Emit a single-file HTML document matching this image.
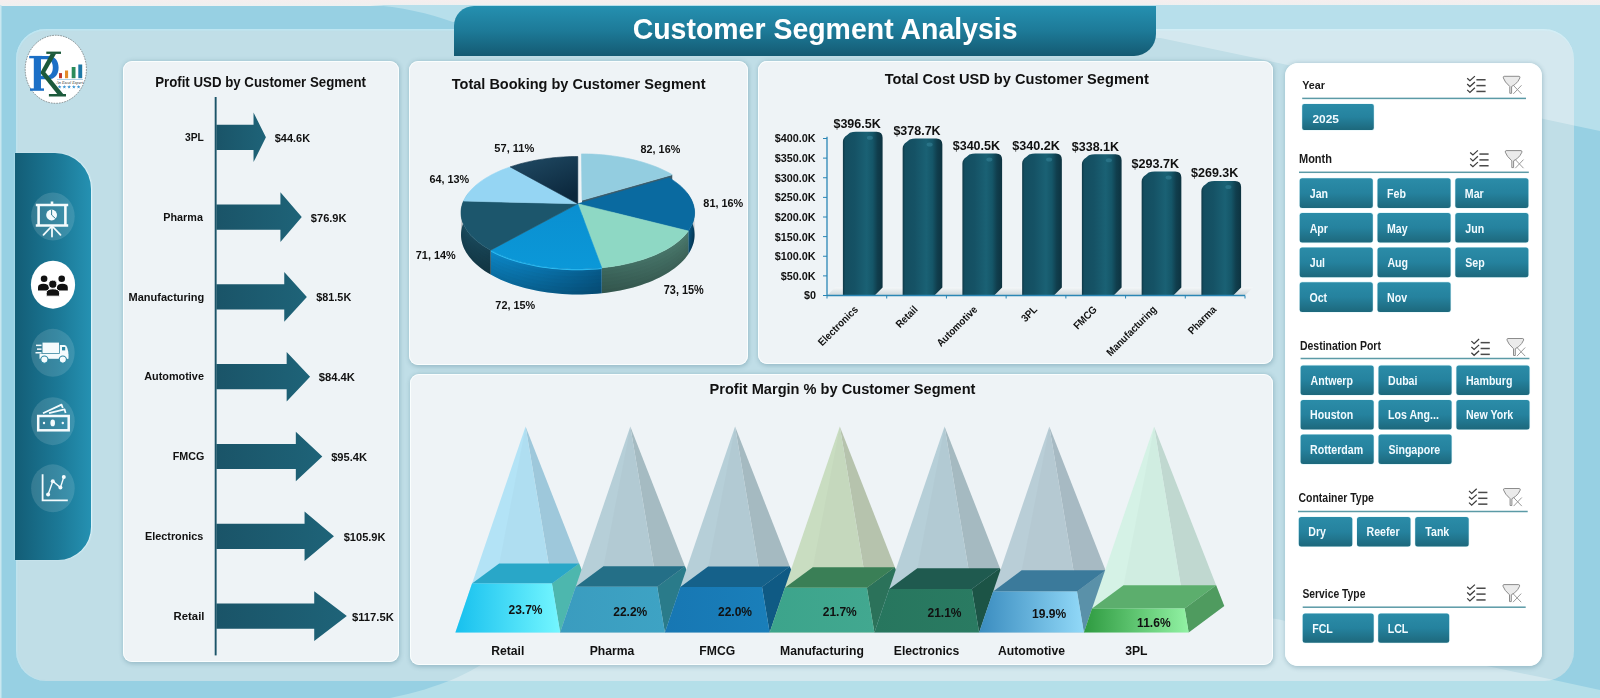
<!DOCTYPE html>
<html><head><meta charset="utf-8"><style>
html,body{margin:0;padding:0;}
body{width:1600px;height:698px;overflow:hidden;position:relative;background:#97d0e3;font-family:"Liberation Sans",sans-serif;}
.abs{position:absolute;}
.t{position:absolute;white-space:nowrap;line-height:1;transform-origin:0 0;}
</style></head><body>
<div style="position:absolute;left:0;top:0;width:1600px;height:5.5px;background:linear-gradient(#f5eeee,#eef0f0)"></div>
<svg class="abs" width="1600" height="698" style="left:0;top:0">
<path d="M370,5 C400,6 430,14 453,22 L1160,38 L1600,131 L1600,5 Z" fill="#b7dfeb"/>
<path d="M390,698 C440,688 475,672 500,650 C560,600 1200,590 1300,625 C1400,650 1500,668 1600,690 L1600,698 Z" fill="#b4dfe9"/>
<rect x="0" y="5" width="1.5" height="693" fill="#c9e7f0"/>
</svg>
<div class="abs" style="left:15.5px;top:29px;width:1558.5px;height:652px;border-radius:30px;background:#c0dee7;overflow:hidden;box-shadow:inset 0 1.5px 1px rgba(190,232,245,0.8),inset 1.5px 0 1px rgba(190,232,245,0.5)">
<svg width="1560" height="660" style="position:absolute;left:0;top:0"><g transform="translate(-15.5,-29)">
<path d="M370,5 C400,6 430,14 453,22 L1160,38 L1600,131 L1600,5 Z" fill="#ffffff" fill-opacity="0.32"/>
<path d="M390,698 C440,688 475,672 500,650 C560,600 1200,590 1300,625 C1400,650 1500,668 1600,690 L1600,698 Z" fill="#ffffff" fill-opacity="0.3"/>
<path d="M1000,0 L1600,0 L1600,60 Z" fill="none"/>
</g></svg></div>
<div class="abs" style="left:453.5px;top:5.5px;width:702.5px;height:50.5px;border-radius:20px 0 22px 0;background:linear-gradient(#2590b0,#1d7a98 50%,#145a72)"></div>

<div class="abs" style="left:123px;top:61px;width:276px;height:600.5px;border-radius:9px;background:#eef3f6;box-shadow:inset 0 0 0 1px rgba(252,255,255,0.85),0.5px 1px 4px 0.5px rgba(60,110,130,0.30);"></div>
<div class="abs" style="left:408.5px;top:61px;width:339.5px;height:303.5px;border-radius:9px;background:#eef3f6;box-shadow:inset 0 0 0 1px rgba(252,255,255,0.85),0.5px 1px 4px 0.5px rgba(60,110,130,0.30);"></div>
<div class="abs" style="left:757.5px;top:61px;width:515.5px;height:303px;border-radius:9px;background:#eef3f6;box-shadow:inset 0 0 0 1px rgba(252,255,255,0.85),0.5px 1px 4px 0.5px rgba(60,110,130,0.30);"></div>
<div class="abs" style="left:409.5px;top:373.5px;width:863.5px;height:291.5px;border-radius:9px;background:#eef3f6;box-shadow:inset 0 0 0 1px rgba(252,255,255,0.85),0.5px 1px 4px 0.5px rgba(60,110,130,0.30);"></div>
<div class="abs" style="left:1285px;top:62.5px;width:256.5px;height:603.5px;border-radius:13px;background:#ffffff;box-shadow:inset 0 0 0 1px rgba(252,255,255,0.85),0.5px 1px 4px 0.5px rgba(60,110,130,0.30);"></div>
<div class="abs" style="left:15px;top:153px;width:76px;height:407px;border-radius:0 36px 33px 0;background:linear-gradient(90deg,#135d76,#1c7a98 60%,#2591b2);box-shadow:0.5px 0 1.5px rgba(225,248,255,0.9)"></div>
<svg class="abs" width="100" height="698" style="left:0;top:0">
<ellipse cx="52.9" cy="216.5" rx="21.8" ry="24" fill="#ffffff" fill-opacity="0.13"/>
<ellipse cx="53" cy="284.7" rx="22.1" ry="24" fill="#ffffff"/>
<ellipse cx="52.9" cy="352.8" rx="21.8" ry="24" fill="#ffffff" fill-opacity="0.13"/>
<ellipse cx="52.9" cy="421.2" rx="21.8" ry="24" fill="#ffffff" fill-opacity="0.13"/>
<ellipse cx="52.9" cy="488.3" rx="21.8" ry="24" fill="#ffffff" fill-opacity="0.13"/>
<g fill="none" stroke="#f4fbfd" stroke-width="2.6" stroke-linecap="butt">
<line x1="35.8" y1="205" x2="68.2" y2="205"/>
<line x1="35.8" y1="225.5" x2="68.2" y2="225.5"/>
<line x1="38.6" y1="205" x2="38.6" y2="225.5"/>
<line x1="65.4" y1="205" x2="65.4" y2="225.5"/>
<line x1="52" y1="201.5" x2="52" y2="205"/>
</g>
<g stroke="#f4fbfd" stroke-width="1.8" stroke-linecap="round">
<line x1="52" y1="226" x2="52" y2="236.5"/>
<line x1="51" y1="227" x2="43.5" y2="234.8"/>
<line x1="53" y1="227" x2="60.5" y2="234.8"/>
</g>
<circle cx="51.6" cy="215" r="5.4" fill="#f4fbfd"/>
<path d="M51.6,209.6 L51.6,215 L55.6,218.6" fill="none" stroke="#1f6f88" stroke-width="0.9"/>

<g fill="#111">
<circle cx="44.1" cy="278.8" r="3.3"/><circle cx="61.7" cy="278.8" r="3.3"/>
<path d="M38,290.4 L38,287.5 Q38,283.8 43.4,283.8 Q48.8,283.8 48.8,287.5 L48.8,290.4 Z"/>
<path d="M57,290.4 L57,287.5 Q57,283.8 62.4,283.8 Q67.8,283.8 67.8,287.5 L67.8,290.4 Z"/>
<circle cx="52.8" cy="284.2" r="4.1" stroke="#fff" stroke-width="1"/>
<path d="M46.2,296.2 L46.2,293.2 Q46.2,288.8 52.9,288.8 Q59.6,288.8 59.6,293.2 L59.6,296.2 Z" stroke="#fff" stroke-width="1"/>
</g>
<g fill="#f4fbfd">
<path d="M42.5,342.6 L59,342.6 L59,353 L42.5,353 Z"/>
<path d="M59.8,345 L64.5,345 Q66.5,345 67.3,348 L68.3,352 L68.3,358.5 L59.8,358.5 Z"/>
<rect x="39.5" y="353.8" width="28.8" height="5" />
<rect x="36" y="344.6" width="5.5" height="1.5"/>
<rect x="37" y="348.4" width="4.5" height="1.5"/>
<rect x="35.5" y="352" width="6" height="1.5"/>
<rect x="62" y="347" width="3.2" height="3.4" fill="#2a86a2"/>
<circle cx="44.4" cy="359.6" r="3.6" stroke="#2a86a2" stroke-width="1.1"/>
<circle cx="62.8" cy="359.6" r="3.6" stroke="#2a86a2" stroke-width="1.1"/>
</g>
<g>
<rect x="38.2" y="416" width="30.5" height="14.3" fill="none" stroke="#f4fbfd" stroke-width="2.5"/>
<ellipse cx="52.7" cy="422.9" rx="2.3" ry="3.4" fill="#f4fbfd"/>
<circle cx="44" cy="423" r="1.2" fill="#f4fbfd"/><circle cx="62.8" cy="423" r="1.2" fill="#f4fbfd"/>
<path d="M43,413.2 L61.5,404.6 L62.8,408 " fill="none" stroke="#f4fbfd" stroke-width="1.8" stroke-linejoin="round"/>
<path d="M49,413.2 L64.5,409.3 L65.6,413 " fill="none" stroke="#f4fbfd" stroke-width="1.8" stroke-linejoin="round"/>
</g>
<g stroke="#f4fbfd" fill="#f4fbfd">
<path d="M42.6,474.2 L42.6,500.3 L67.8,500.3" fill="none" stroke-width="1.8"/>
<path d="M48.1,494.4 L52.8,481.3 L60.4,487.6 L63.8,477" fill="none" stroke-width="1.4"/>
<circle cx="48.1" cy="494.4" r="2" stroke="none"/><circle cx="52.8" cy="481.3" r="2" stroke="none"/>
<circle cx="60.4" cy="487.6" r="2" stroke="none"/><circle cx="63.8" cy="477" r="2" stroke="none"/>
</g>
</svg>
<svg class="abs" width="100" height="120" style="left:0;top:0">
<ellipse cx="55.8" cy="69.3" rx="30.6" ry="34" fill="#fff" stroke="#6a6a6a" stroke-width="0.7" stroke-dasharray="1.6,1.1"/>
<g fill="#1b6fc6">
<rect x="33.9" y="56" width="6.9" height="33.5"/>
<rect x="29.2" y="55.9" width="13" height="2.4"/>
<rect x="30" y="88.4" width="14" height="2.4"/>
<path fill-rule="evenodd" d="M40.5,55.9 L48.5,55.9 C55,55.9 58.6,61 58.6,67.4 C58.6,74 55,79.2 48.5,79.2 L40.5,79.2 Z M40.8,59.3 L46.8,59.3 C50.6,59.3 52.8,62.5 52.8,67.4 C52.8,72.4 50.6,75.8 46.8,75.8 L40.8,75.8 Z"/>
</g>
<g fill="#1c5a3b">
<rect x="46.3" y="51.6" width="14.7" height="2.3"/>
<path d="M50.8,53.6 L56.2,53.6 L44.6,73.5 L39.8,73.5 Z"/>
<path d="M39.8,72.2 L45.4,72.2 L63.6,94.5 L57.6,94.5 Z"/>
<rect x="48.9" y="94" width="17.1" height="2.5"/>
</g>
<rect x="33.9" y="56" width="6.9" height="33.5" fill="#1b6fc6"/>
<rect x="59" y="73.1" width="3" height="5.1" fill="#c0392b"/>
<rect x="65" y="70.5" width="3.1" height="7.7" fill="#e38b2a"/>
<rect x="71.7" y="67" width="3.8" height="11.2" fill="#2a8c5a"/>
<rect x="78.3" y="64.5" width="3.9" height="13.7" fill="#1c78a6"/>
<rect x="57" y="79.2" width="26" height="0.6" fill="#7fb8d8"/>
<text x="56.3" y="83.8" font-family="Liberation Serif" font-style="italic" font-size="3.4" fill="#333" textLength="27" lengthAdjust="spacingAndGlyphs">An Excel Expert</text>
<polygon points="59.60,84.90 60.10,86.21 61.50,86.28 60.41,87.16 60.78,88.52 59.60,87.75 58.42,88.52 58.79,87.16 57.70,86.28 59.10,86.21" fill="#3f96d2"/><polygon points="64.35,84.90 64.85,86.21 66.25,86.28 65.16,87.16 65.53,88.52 64.35,87.75 63.17,88.52 63.54,87.16 62.45,86.28 63.85,86.21" fill="#3f96d2"/><polygon points="69.10,84.90 69.60,86.21 71.00,86.28 69.91,87.16 70.28,88.52 69.10,87.75 67.92,88.52 68.29,87.16 67.20,86.28 68.60,86.21" fill="#3f96d2"/><polygon points="73.85,84.90 74.35,86.21 75.75,86.28 74.66,87.16 75.03,88.52 73.85,87.75 72.67,88.52 73.04,87.16 71.95,86.28 73.35,86.21" fill="#3f96d2"/><polygon points="78.60,84.90 79.10,86.21 80.50,86.28 79.41,87.16 79.78,88.52 78.60,87.75 77.42,88.52 77.79,87.16 76.70,86.28 78.10,86.21" fill="#3f96d2"/>
</svg>
<svg class="abs" width="400" height="698" style="left:0;top:0">
<defs><linearGradient id="arr" x1="0" y1="0" x2="1" y2="0"><stop offset="0" stop-color="#1a5468"/><stop offset="1" stop-color="#1e6378"/></linearGradient></defs>
<path d="M216.4,124.70 L253.53,124.70 L253.53,112.50 L265.91,137.30 L253.53,162.10 L253.53,149.90 L216.4,149.90 Z" fill="url(#arr)"/>
<path d="M216.4,204.50 L280.42,204.50 L280.42,192.30 L301.76,217.10 L280.42,241.90 L280.42,229.70 L216.4,229.70 Z" fill="url(#arr)"/>
<path d="M216.4,284.30 L284.25,284.30 L284.25,272.10 L306.87,296.90 L284.25,321.70 L284.25,309.50 L216.4,309.50 Z" fill="url(#arr)"/>
<path d="M216.4,364.10 L286.66,364.10 L286.66,351.90 L310.08,376.70 L286.66,401.50 L286.66,389.30 L216.4,389.30 Z" fill="url(#arr)"/>
<path d="M216.4,443.90 L295.82,443.90 L295.82,431.70 L322.29,456.50 L295.82,481.30 L295.82,469.10 L216.4,469.10 Z" fill="url(#arr)"/>
<path d="M216.4,523.70 L304.56,523.70 L304.56,511.50 L333.95,536.30 L304.56,561.10 L304.56,548.90 L216.4,548.90 Z" fill="url(#arr)"/>
<path d="M216.4,603.50 L314.22,603.50 L314.22,591.30 L346.83,616.10 L314.22,640.90 L314.22,628.70 L216.4,628.70 Z" fill="url(#arr)"/>
<rect x="214.7" y="97" width="1.9" height="558.4" fill="#1b5468"/>
</svg>
<svg class="abs" width="800" height="400" style="left:0;top:0"><defs>
<linearGradient id="ps0" x1="0" y1="0" x2="1" y2="0"><stop offset="0" stop-color="#5e8ea0"/><stop offset="1" stop-color="#4d7d90"/></linearGradient>
<linearGradient id="ps1" x1="0" y1="0" x2="1" y2="0"><stop offset="0" stop-color="#0a5a88"/><stop offset="1" stop-color="#063f60"/></linearGradient>
<linearGradient id="ps2" x1="0" y1="0" x2="1" y2="0"><stop offset="0" stop-color="#3d675d"/><stop offset="1" stop-color="#4a786c"/></linearGradient>
<linearGradient id="ps3" x1="0" y1="0" x2="1" y2="0"><stop offset="0" stop-color="#0c86c6"/><stop offset="1" stop-color="#075a8a"/></linearGradient>
<linearGradient id="ps4" x1="0" y1="0" x2="1" y2="0"><stop offset="0" stop-color="#1a4b5e"/><stop offset="1" stop-color="#163f4f"/></linearGradient>
<linearGradient id="ps5" x1="0" y1="0" x2="1" y2="0"><stop offset="0" stop-color="#6aa8c8"/><stop offset="1" stop-color="#5a98b8"/></linearGradient>
<linearGradient id="ps6" x1="0" y1="0" x2="1" y2="0"><stop offset="0" stop-color="#0f2a3c"/><stop offset="1" stop-color="#0c2232"/></linearGradient>
<linearGradient id="pt6" x1="0" y1="0" x2="0.6" y2="1"><stop offset="0" stop-color="#214c66"/><stop offset="1" stop-color="#0c283d"/></linearGradient>
<linearGradient id="pt3" x1="0" y1="0" x2="0" y2="1"><stop offset="0" stop-color="#0a8fd0"/><stop offset="1" stop-color="#0b98d8"/></linearGradient>
</defs>
<path d="M686.97,192.77 L688.34,194.60 L689.59,196.47 L690.70,198.36 L691.69,200.29 L692.53,202.24 L693.23,204.21 L693.79,206.21 L694.21,208.22 L694.47,210.26 L694.58,212.31 L694.54,214.37 L694.33,216.44 L693.97,218.52 L693.44,220.61 L692.74,222.69 L691.88,224.77 L690.85,226.85 L689.65,228.92 L688.27,230.97 L688.27,254.17 L689.65,251.98 L690.85,249.79 L691.88,247.58 L692.74,245.37 L693.44,243.15 L693.97,240.94 L694.33,238.73 L694.54,236.53 L694.58,234.34 L694.47,232.16 L694.21,230.00 L693.79,227.86 L693.23,225.74 L692.53,223.64 L691.69,221.57 L690.70,219.52 L689.59,217.51 L688.34,215.53 L686.97,213.58 Z" fill="url(#ps1)"/>
<path d="M686.97,195.74 L688.34,197.59 L689.59,199.47 L690.70,201.39 L691.69,203.33 L692.53,205.29 L693.23,207.29 L693.79,209.30 L694.21,211.34 L694.47,213.39 L694.58,215.46 L694.54,217.54 L694.33,219.63 L693.97,221.72 L693.44,223.83 L692.74,225.93 L691.88,228.03 L690.85,230.12 L689.65,232.21 L688.27,234.28 L688.27,237.60 L689.65,235.51 L690.85,233.40 L691.88,231.29 L692.74,229.17 L693.44,227.05 L693.97,224.93 L694.33,222.81 L694.54,220.70 L694.58,218.60 L694.47,216.52 L694.21,214.45 L693.79,212.39 L693.23,210.36 L692.53,208.35 L691.69,206.37 L690.70,204.41 L689.59,202.48 L688.34,200.58 L686.97,198.72 Z" fill="#000" fill-opacity="0.029"/>
<path d="M686.97,198.72 L688.34,200.58 L689.59,202.48 L690.70,204.41 L691.69,206.37 L692.53,208.35 L693.23,210.36 L693.79,212.39 L694.21,214.45 L694.47,216.52 L694.58,218.60 L694.54,220.70 L694.33,222.81 L693.97,224.93 L693.44,227.05 L692.74,229.17 L691.88,231.29 L690.85,233.40 L689.65,235.51 L688.27,237.60 L688.27,240.91 L689.65,238.80 L690.85,236.68 L691.88,234.55 L692.74,232.41 L693.44,230.27 L693.97,228.13 L694.33,226.00 L694.54,223.87 L694.58,221.75 L694.47,219.65 L694.21,217.56 L693.79,215.49 L693.23,213.44 L692.53,211.41 L691.69,209.41 L690.70,207.43 L689.59,205.49 L688.34,203.57 L686.97,201.69 Z" fill="#000" fill-opacity="0.057"/>
<path d="M686.97,201.69 L688.34,203.57 L689.59,205.49 L690.70,207.43 L691.69,209.41 L692.53,211.41 L693.23,213.44 L693.79,215.49 L694.21,217.56 L694.47,219.65 L694.58,221.75 L694.54,223.87 L694.33,226.00 L693.97,228.13 L693.44,230.27 L692.74,232.41 L691.88,234.55 L690.85,236.68 L689.65,238.80 L688.27,240.91 L688.27,244.22 L689.65,242.10 L690.85,239.95 L691.88,237.80 L692.74,235.65 L693.44,233.49 L693.97,231.33 L694.33,229.18 L694.54,227.03 L694.58,224.90 L694.47,222.78 L694.21,220.67 L693.79,218.58 L693.23,216.51 L692.53,214.47 L691.69,212.45 L690.70,210.46 L689.59,208.49 L688.34,206.56 L686.97,204.66 Z" fill="#000" fill-opacity="0.086"/>
<path d="M686.97,204.66 L688.34,206.56 L689.59,208.49 L690.70,210.46 L691.69,212.45 L692.53,214.47 L693.23,216.51 L693.79,218.58 L694.21,220.67 L694.47,222.78 L694.58,224.90 L694.54,227.03 L694.33,229.18 L693.97,231.33 L693.44,233.49 L692.74,235.65 L691.88,237.80 L690.85,239.95 L689.65,242.10 L688.27,244.22 L688.27,247.54 L689.65,245.39 L690.85,243.23 L691.88,241.06 L692.74,238.89 L693.44,236.71 L693.97,234.54 L694.33,232.36 L694.54,230.20 L694.58,228.05 L694.47,225.90 L694.21,223.78 L693.79,221.67 L693.23,219.59 L692.53,217.52 L691.69,215.49 L690.70,213.48 L689.59,211.50 L688.34,209.55 L686.97,207.64 Z" fill="#000" fill-opacity="0.114"/>
<path d="M686.97,207.64 L688.34,209.55 L689.59,211.50 L690.70,213.48 L691.69,215.49 L692.53,217.52 L693.23,219.59 L693.79,221.67 L694.21,223.78 L694.47,225.90 L694.58,228.05 L694.54,230.20 L694.33,232.36 L693.97,234.54 L693.44,236.71 L692.74,238.89 L691.88,241.06 L690.85,243.23 L689.65,245.39 L688.27,247.54 L688.27,250.85 L689.65,248.69 L690.85,246.51 L691.88,244.32 L692.74,242.13 L693.44,239.93 L693.97,237.74 L694.33,235.55 L694.54,233.37 L694.58,231.19 L694.47,229.03 L694.21,226.89 L693.79,224.77 L693.23,222.66 L692.53,220.58 L691.69,218.53 L690.70,216.50 L689.59,214.50 L688.34,212.54 L686.97,210.61 Z" fill="#000" fill-opacity="0.143"/>
<path d="M686.97,210.61 L688.34,212.54 L689.59,214.50 L690.70,216.50 L691.69,218.53 L692.53,220.58 L693.23,222.66 L693.79,224.77 L694.21,226.89 L694.47,229.03 L694.58,231.19 L694.54,233.37 L694.33,235.55 L693.97,237.74 L693.44,239.93 L692.74,242.13 L691.88,244.32 L690.85,246.51 L689.65,248.69 L688.27,250.85 L688.27,254.17 L689.65,251.98 L690.85,249.79 L691.88,247.58 L692.74,245.37 L693.44,243.15 L693.97,240.94 L694.33,238.73 L694.54,236.53 L694.58,234.34 L694.47,232.16 L694.21,230.00 L693.79,227.86 L693.23,225.74 L692.53,223.64 L691.69,221.57 L690.70,219.52 L689.59,217.51 L688.34,215.53 L686.97,213.58 Z" fill="#000" fill-opacity="0.171"/>
<path d="M688.27,230.97 L686.77,232.96 L685.10,234.93 L683.27,236.88 L681.27,238.81 L679.11,240.71 L676.79,242.57 L674.31,244.40 L671.67,246.19 L668.88,247.93 L665.93,249.63 L662.83,251.28 L659.58,252.87 L656.19,254.41 L652.67,255.89 L649.01,257.30 L645.22,258.65 L641.31,259.92 L637.28,261.12 L633.15,262.25 L628.91,263.29 L624.57,264.26 L620.14,265.13 L615.64,265.93 L611.06,266.63 L606.42,267.25 L601.73,267.77 L601.73,293.26 L606.42,292.70 L611.06,292.05 L615.64,291.30 L620.14,290.46 L624.57,289.53 L628.91,288.50 L633.15,287.39 L637.28,286.20 L641.31,284.92 L645.22,283.57 L649.01,282.14 L652.67,280.64 L656.19,279.07 L659.58,277.44 L662.83,275.74 L665.93,273.99 L668.88,272.18 L671.67,270.33 L674.31,268.43 L676.79,266.49 L679.11,264.51 L681.27,262.49 L683.27,260.45 L685.10,258.38 L686.77,256.28 L688.27,254.17 Z" fill="url(#ps2)"/>
<path d="M688.27,234.28 L686.77,236.29 L685.10,238.28 L683.27,240.25 L681.27,242.19 L679.11,244.11 L676.79,245.99 L674.31,247.83 L671.67,249.64 L668.88,251.40 L665.93,253.11 L662.83,254.77 L659.58,256.38 L656.19,257.93 L652.67,259.42 L649.01,260.85 L645.22,262.21 L641.31,263.49 L637.28,264.70 L633.15,265.84 L628.91,266.89 L624.57,267.87 L620.14,268.75 L615.64,269.55 L611.06,270.26 L606.42,270.88 L601.73,271.41 L601.73,275.05 L606.42,274.52 L611.06,273.89 L615.64,273.18 L620.14,272.37 L624.57,271.48 L628.91,270.49 L633.15,269.43 L637.28,268.29 L641.31,267.06 L645.22,265.77 L649.01,264.40 L652.67,262.96 L656.19,261.46 L659.58,259.89 L662.83,258.27 L665.93,256.59 L668.88,254.86 L671.67,253.08 L674.31,251.26 L676.79,249.40 L679.11,247.51 L681.27,245.58 L683.27,243.62 L685.10,241.63 L686.77,239.62 L688.27,237.60 Z" fill="#000" fill-opacity="0.029"/>
<path d="M688.27,237.60 L686.77,239.62 L685.10,241.63 L683.27,243.62 L681.27,245.58 L679.11,247.51 L676.79,249.40 L674.31,251.26 L671.67,253.08 L668.88,254.86 L665.93,256.59 L662.83,258.27 L659.58,259.89 L656.19,261.46 L652.67,262.96 L649.01,264.40 L645.22,265.77 L641.31,267.06 L637.28,268.29 L633.15,269.43 L628.91,270.49 L624.57,271.48 L620.14,272.37 L615.64,273.18 L611.06,273.89 L606.42,274.52 L601.73,275.05 L601.73,278.69 L606.42,278.16 L611.06,277.53 L615.64,276.80 L620.14,275.99 L624.57,275.09 L628.91,274.10 L633.15,273.02 L637.28,271.87 L641.31,270.64 L645.22,269.33 L649.01,267.95 L652.67,266.49 L656.19,264.98 L659.58,263.40 L662.83,261.76 L665.93,260.07 L668.88,258.33 L671.67,256.53 L674.31,254.70 L676.79,252.82 L679.11,250.91 L681.27,248.96 L683.27,246.98 L685.10,244.98 L686.77,242.95 L688.27,240.91 Z" fill="#000" fill-opacity="0.057"/>
<path d="M688.27,240.91 L686.77,242.95 L685.10,244.98 L683.27,246.98 L681.27,248.96 L679.11,250.91 L676.79,252.82 L674.31,254.70 L671.67,256.53 L668.88,258.33 L665.93,260.07 L662.83,261.76 L659.58,263.40 L656.19,264.98 L652.67,266.49 L649.01,267.95 L645.22,269.33 L641.31,270.64 L637.28,271.87 L633.15,273.02 L628.91,274.10 L624.57,275.09 L620.14,275.99 L615.64,276.80 L611.06,277.53 L606.42,278.16 L601.73,278.69 L601.73,282.33 L606.42,281.79 L611.06,281.16 L615.64,280.43 L620.14,279.61 L624.57,278.70 L628.91,277.70 L633.15,276.62 L637.28,275.45 L641.31,274.21 L645.22,272.89 L649.01,271.49 L652.67,270.03 L656.19,268.50 L659.58,266.91 L662.83,265.26 L665.93,263.55 L668.88,261.79 L671.67,259.98 L674.31,258.13 L676.79,256.24 L679.11,254.31 L681.27,252.34 L683.27,250.35 L685.10,248.33 L686.77,246.29 L688.27,244.22 Z" fill="#000" fill-opacity="0.086"/>
<path d="M688.27,244.22 L686.77,246.29 L685.10,248.33 L683.27,250.35 L681.27,252.34 L679.11,254.31 L676.79,256.24 L674.31,258.13 L671.67,259.98 L668.88,261.79 L665.93,263.55 L662.83,265.26 L659.58,266.91 L656.19,268.50 L652.67,270.03 L649.01,271.49 L645.22,272.89 L641.31,274.21 L637.28,275.45 L633.15,276.62 L628.91,277.70 L624.57,278.70 L620.14,279.61 L615.64,280.43 L611.06,281.16 L606.42,281.79 L601.73,282.33 L601.73,285.98 L606.42,285.43 L611.06,284.79 L615.64,284.05 L620.14,283.22 L624.57,282.31 L628.91,281.30 L633.15,280.21 L637.28,279.03 L641.31,277.78 L645.22,276.45 L649.01,275.04 L652.67,273.57 L656.19,272.02 L659.58,270.42 L662.83,268.75 L665.93,267.03 L668.88,265.26 L671.67,263.43 L674.31,261.56 L676.79,259.65 L679.11,257.71 L681.27,255.73 L683.27,253.71 L685.10,251.68 L686.77,249.62 L688.27,247.54 Z" fill="#000" fill-opacity="0.114"/>
<path d="M688.27,247.54 L686.77,249.62 L685.10,251.68 L683.27,253.71 L681.27,255.73 L679.11,257.71 L676.79,259.65 L674.31,261.56 L671.67,263.43 L668.88,265.26 L665.93,267.03 L662.83,268.75 L659.58,270.42 L656.19,272.02 L652.67,273.57 L649.01,275.04 L645.22,276.45 L641.31,277.78 L637.28,279.03 L633.15,280.21 L628.91,281.30 L624.57,282.31 L620.14,283.22 L615.64,284.05 L611.06,284.79 L606.42,285.43 L601.73,285.98 L601.73,289.62 L606.42,289.07 L611.06,288.42 L615.64,287.68 L620.14,286.84 L624.57,285.92 L628.91,284.90 L633.15,283.80 L637.28,282.62 L641.31,281.35 L645.22,280.01 L649.01,278.59 L652.67,277.10 L656.19,275.55 L659.58,273.93 L662.83,272.25 L665.93,270.51 L668.88,268.72 L671.67,266.88 L674.31,265.00 L676.79,263.07 L679.11,261.11 L681.27,259.11 L683.27,257.08 L685.10,255.03 L686.77,252.95 L688.27,250.85 Z" fill="#000" fill-opacity="0.143"/>
<path d="M688.27,250.85 L686.77,252.95 L685.10,255.03 L683.27,257.08 L681.27,259.11 L679.11,261.11 L676.79,263.07 L674.31,265.00 L671.67,266.88 L668.88,268.72 L665.93,270.51 L662.83,272.25 L659.58,273.93 L656.19,275.55 L652.67,277.10 L649.01,278.59 L645.22,280.01 L641.31,281.35 L637.28,282.62 L633.15,283.80 L628.91,284.90 L624.57,285.92 L620.14,286.84 L615.64,287.68 L611.06,288.42 L606.42,289.07 L601.73,289.62 L601.73,293.26 L606.42,292.70 L611.06,292.05 L615.64,291.30 L620.14,290.46 L624.57,289.53 L628.91,288.50 L633.15,287.39 L637.28,286.20 L641.31,284.92 L645.22,283.57 L649.01,282.14 L652.67,280.64 L656.19,279.07 L659.58,277.44 L662.83,275.74 L665.93,273.99 L668.88,272.18 L671.67,270.33 L674.31,268.43 L676.79,266.49 L679.11,264.51 L681.27,262.49 L683.27,260.45 L685.10,258.38 L686.77,256.28 L688.27,254.17 Z" fill="#000" fill-opacity="0.171"/>
<path d="M601.73,267.77 L596.86,268.21 L591.96,268.55 L587.02,268.78 L582.07,268.92 L577.11,268.96 L572.15,268.89 L567.20,268.73 L562.28,268.46 L557.38,268.09 L552.53,267.63 L547.73,267.06 L542.99,266.40 L538.32,265.65 L533.73,264.80 L529.23,263.87 L524.82,262.84 L520.52,261.73 L516.33,260.54 L512.26,259.27 L508.31,257.92 L504.50,256.51 L500.82,255.02 L497.29,253.47 L493.91,251.85 L490.68,250.18 L490.68,274.57 L493.91,276.35 L497.29,278.06 L500.82,279.71 L504.50,281.29 L508.31,282.80 L512.26,284.23 L516.33,285.58 L520.52,286.85 L524.82,288.03 L529.23,289.11 L533.73,290.11 L538.32,291.01 L542.99,291.81 L547.73,292.51 L552.53,293.11 L557.38,293.61 L562.28,294.00 L567.20,294.28 L572.15,294.46 L577.11,294.52 L582.07,294.49 L587.02,294.34 L591.96,294.08 L596.86,293.72 L601.73,293.26 Z" fill="url(#ps3)"/>
<path d="M601.73,271.41 L596.86,271.85 L591.96,272.19 L587.02,272.44 L582.07,272.57 L577.11,272.61 L572.15,272.55 L567.20,272.38 L562.28,272.11 L557.38,271.74 L552.53,271.27 L547.73,270.70 L542.99,270.03 L538.32,269.27 L533.73,268.42 L529.23,267.47 L524.82,266.44 L520.52,265.32 L516.33,264.12 L512.26,262.84 L508.31,261.48 L504.50,260.05 L500.82,258.55 L497.29,256.98 L493.91,255.35 L490.68,253.66 L490.68,257.15 L493.91,258.85 L497.29,260.49 L500.82,262.07 L504.50,263.59 L508.31,265.03 L512.26,266.40 L516.33,267.70 L520.52,268.91 L524.82,270.04 L529.23,271.08 L533.73,272.03 L538.32,272.90 L542.99,273.66 L547.73,274.34 L552.53,274.91 L557.38,275.38 L562.28,275.76 L567.20,276.03 L572.15,276.20 L577.11,276.26 L582.07,276.23 L587.02,276.09 L591.96,275.84 L596.86,275.50 L601.73,275.05 Z" fill="#000" fill-opacity="0.029"/>
<path d="M601.73,275.05 L596.86,275.50 L591.96,275.84 L587.02,276.09 L582.07,276.23 L577.11,276.26 L572.15,276.20 L567.20,276.03 L562.28,275.76 L557.38,275.38 L552.53,274.91 L547.73,274.34 L542.99,273.66 L538.32,272.90 L533.73,272.03 L529.23,271.08 L524.82,270.04 L520.52,268.91 L516.33,267.70 L512.26,266.40 L508.31,265.03 L504.50,263.59 L500.82,262.07 L497.29,260.49 L493.91,258.85 L490.68,257.15 L490.68,260.63 L493.91,262.35 L497.29,264.01 L500.82,265.60 L504.50,267.13 L508.31,268.59 L512.26,269.97 L516.33,271.27 L520.52,272.50 L524.82,273.64 L529.23,274.69 L533.73,275.65 L538.32,276.52 L542.99,277.29 L547.73,277.97 L552.53,278.55 L557.38,279.03 L562.28,279.40 L567.20,279.68 L572.15,279.85 L577.11,279.92 L582.07,279.88 L587.02,279.74 L591.96,279.49 L596.86,279.14 L601.73,278.69 Z" fill="#000" fill-opacity="0.057"/>
<path d="M601.73,278.69 L596.86,279.14 L591.96,279.49 L587.02,279.74 L582.07,279.88 L577.11,279.92 L572.15,279.85 L567.20,279.68 L562.28,279.40 L557.38,279.03 L552.53,278.55 L547.73,277.97 L542.99,277.29 L538.32,276.52 L533.73,275.65 L529.23,274.69 L524.82,273.64 L520.52,272.50 L516.33,271.27 L512.26,269.97 L508.31,268.59 L504.50,267.13 L500.82,265.60 L497.29,264.01 L493.91,262.35 L490.68,260.63 L490.68,264.12 L493.91,265.85 L497.29,267.52 L500.82,269.13 L504.50,270.67 L508.31,272.14 L512.26,273.53 L516.33,274.85 L520.52,276.08 L524.82,277.23 L529.23,278.29 L533.73,279.26 L538.32,280.14 L542.99,280.92 L547.73,281.61 L552.53,282.19 L557.38,282.67 L562.28,283.05 L567.20,283.33 L572.15,283.50 L577.11,283.57 L582.07,283.53 L587.02,283.39 L591.96,283.14 L596.86,282.79 L601.73,282.33 Z" fill="#000" fill-opacity="0.086"/>
<path d="M601.73,282.33 L596.86,282.79 L591.96,283.14 L587.02,283.39 L582.07,283.53 L577.11,283.57 L572.15,283.50 L567.20,283.33 L562.28,283.05 L557.38,282.67 L552.53,282.19 L547.73,281.61 L542.99,280.92 L538.32,280.14 L533.73,279.26 L529.23,278.29 L524.82,277.23 L520.52,276.08 L516.33,274.85 L512.26,273.53 L508.31,272.14 L504.50,270.67 L500.82,269.13 L497.29,267.52 L493.91,265.85 L490.68,264.12 L490.68,267.60 L493.91,269.35 L497.29,271.04 L500.82,272.66 L504.50,274.21 L508.31,275.69 L512.26,277.10 L516.33,278.43 L520.52,279.67 L524.82,280.83 L529.23,281.90 L533.73,282.88 L538.32,283.76 L542.99,284.55 L547.73,285.24 L552.53,285.83 L557.38,286.32 L562.28,286.70 L567.20,286.98 L572.15,287.15 L577.11,287.22 L582.07,287.18 L587.02,287.04 L591.96,286.79 L596.86,286.43 L601.73,285.98 Z" fill="#000" fill-opacity="0.114"/>
<path d="M601.73,285.98 L596.86,286.43 L591.96,286.79 L587.02,287.04 L582.07,287.18 L577.11,287.22 L572.15,287.15 L567.20,286.98 L562.28,286.70 L557.38,286.32 L552.53,285.83 L547.73,285.24 L542.99,284.55 L538.32,283.76 L533.73,282.88 L529.23,281.90 L524.82,280.83 L520.52,279.67 L516.33,278.43 L512.26,277.10 L508.31,275.69 L504.50,274.21 L500.82,272.66 L497.29,271.04 L493.91,269.35 L490.68,267.60 L490.68,271.09 L493.91,272.85 L497.29,274.55 L500.82,276.19 L504.50,277.75 L508.31,279.25 L512.26,280.67 L516.33,282.00 L520.52,283.26 L524.82,284.43 L529.23,285.51 L533.73,286.49 L538.32,287.39 L542.99,288.18 L547.73,288.88 L552.53,289.47 L557.38,289.96 L562.28,290.35 L567.20,290.63 L572.15,290.80 L577.11,290.87 L582.07,290.83 L587.02,290.69 L591.96,290.44 L596.86,290.08 L601.73,289.62 Z" fill="#000" fill-opacity="0.143"/>
<path d="M601.73,289.62 L596.86,290.08 L591.96,290.44 L587.02,290.69 L582.07,290.83 L577.11,290.87 L572.15,290.80 L567.20,290.63 L562.28,290.35 L557.38,289.96 L552.53,289.47 L547.73,288.88 L542.99,288.18 L538.32,287.39 L533.73,286.49 L529.23,285.51 L524.82,284.43 L520.52,283.26 L516.33,282.00 L512.26,280.67 L508.31,279.25 L504.50,277.75 L500.82,276.19 L497.29,274.55 L493.91,272.85 L490.68,271.09 L490.68,274.57 L493.91,276.35 L497.29,278.06 L500.82,279.71 L504.50,281.29 L508.31,282.80 L512.26,284.23 L516.33,285.58 L520.52,286.85 L524.82,288.03 L529.23,289.11 L533.73,290.11 L538.32,291.01 L542.99,291.81 L547.73,292.51 L552.53,293.11 L557.38,293.61 L562.28,294.00 L567.20,294.28 L572.15,294.46 L577.11,294.52 L582.07,294.49 L587.02,294.34 L591.96,294.08 L596.86,293.72 L601.73,293.26 Z" fill="#000" fill-opacity="0.171"/>
<path d="M601.73,268.37 L596.86,268.81 L591.96,269.15 L587.02,269.38 L582.07,269.52 L577.11,269.56 L572.15,269.49 L567.20,269.33 L562.28,269.06 L557.38,268.69 L552.53,268.23 L547.73,267.66 L542.99,267.00 L538.32,266.25 L533.73,265.40 L529.23,264.47 L524.82,263.44 L520.52,262.33 L516.33,261.14 L512.26,259.87 L508.31,258.52 L504.50,257.11 L500.82,255.62 L497.29,254.07 L493.91,252.45 L490.68,250.78" fill="none" stroke="#30c0f6" stroke-width="1.3"/>
<path d="M490.68,250.18 L487.64,248.48 L484.77,246.72 L482.05,244.93 L479.49,243.09 L477.10,241.21 L474.87,239.30 L472.81,237.36 L470.92,235.40 L469.19,233.41 L467.63,231.40 L466.24,229.37 L465.02,227.33 L463.96,225.29 L463.07,223.23 L462.34,221.17 L461.77,219.12 L461.36,217.06 L461.11,215.02 L461.02,212.98 L461.07,210.95 L461.28,208.94 L461.64,206.94 L462.14,204.96 L462.78,203.00 L463.56,201.07 L463.56,222.40 L462.78,224.45 L462.14,226.53 L461.64,228.64 L461.28,230.76 L461.07,232.90 L461.02,235.05 L461.11,237.22 L461.36,239.39 L461.77,241.57 L462.34,243.76 L463.07,245.94 L463.96,248.13 L465.02,250.30 L466.24,252.47 L467.63,254.62 L469.19,256.75 L470.92,258.87 L472.81,260.96 L474.87,263.02 L477.10,265.05 L479.49,267.04 L482.05,268.99 L484.77,270.90 L487.64,272.76 L490.68,274.57 Z" fill="url(#ps4)"/>
<path d="M490.68,253.66 L487.64,251.95 L484.77,250.18 L482.05,248.37 L479.49,246.51 L477.10,244.62 L474.87,242.69 L472.81,240.73 L470.92,238.75 L469.19,236.74 L467.63,234.71 L466.24,232.67 L465.02,230.61 L463.96,228.55 L463.07,226.48 L462.34,224.40 L461.77,222.33 L461.36,220.25 L461.11,218.19 L461.02,216.13 L461.07,214.09 L461.28,212.05 L461.64,210.04 L462.14,208.04 L462.78,206.07 L463.56,204.12 L463.56,207.16 L462.78,209.13 L462.14,211.12 L461.64,213.14 L461.28,215.17 L461.07,217.22 L461.02,219.28 L461.11,221.36 L461.36,223.44 L461.77,225.53 L462.34,227.63 L463.07,229.72 L463.96,231.81 L465.02,233.90 L466.24,235.97 L467.63,238.03 L469.19,240.08 L470.92,242.10 L472.81,244.11 L474.87,246.08 L477.10,248.02 L479.49,249.93 L482.05,251.80 L484.77,253.63 L487.64,255.41 L490.68,257.15 Z" fill="#000" fill-opacity="0.029"/>
<path d="M490.68,257.15 L487.64,255.41 L484.77,253.63 L482.05,251.80 L479.49,249.93 L477.10,248.02 L474.87,246.08 L472.81,244.11 L470.92,242.10 L469.19,240.08 L467.63,238.03 L466.24,235.97 L465.02,233.90 L463.96,231.81 L463.07,229.72 L462.34,227.63 L461.77,225.53 L461.36,223.44 L461.11,221.36 L461.02,219.28 L461.07,217.22 L461.28,215.17 L461.64,213.14 L462.14,211.12 L462.78,209.13 L463.56,207.16 L463.56,210.21 L462.78,212.20 L462.14,214.21 L461.64,216.24 L461.28,218.29 L461.07,220.36 L461.02,222.44 L461.11,224.53 L461.36,226.63 L461.77,228.74 L462.34,230.85 L463.07,232.97 L463.96,235.07 L465.02,237.18 L466.24,239.27 L467.63,241.35 L469.19,243.41 L470.92,245.46 L472.81,247.48 L474.87,249.47 L477.10,251.43 L479.49,253.35 L482.05,255.24 L484.77,257.09 L487.64,258.88 L490.68,260.63 Z" fill="#000" fill-opacity="0.057"/>
<path d="M490.68,260.63 L487.64,258.88 L484.77,257.09 L482.05,255.24 L479.49,253.35 L477.10,251.43 L474.87,249.47 L472.81,247.48 L470.92,245.46 L469.19,243.41 L467.63,241.35 L466.24,239.27 L465.02,237.18 L463.96,235.07 L463.07,232.97 L462.34,230.85 L461.77,228.74 L461.36,226.63 L461.11,224.53 L461.02,222.44 L461.07,220.36 L461.28,218.29 L461.64,216.24 L462.14,214.21 L462.78,212.20 L463.56,210.21 L463.56,213.26 L462.78,215.26 L462.14,217.29 L461.64,219.34 L461.28,221.41 L461.07,223.49 L461.02,225.59 L461.11,227.70 L461.36,229.82 L461.77,231.95 L462.34,234.08 L463.07,236.21 L463.96,238.34 L465.02,240.46 L466.24,242.57 L467.63,244.67 L469.19,246.75 L470.92,248.81 L472.81,250.85 L474.87,252.86 L477.10,254.83 L479.49,256.78 L482.05,258.68 L484.77,260.54 L487.64,262.35 L490.68,264.12 Z" fill="#000" fill-opacity="0.086"/>
<path d="M490.68,264.12 L487.64,262.35 L484.77,260.54 L482.05,258.68 L479.49,256.78 L477.10,254.83 L474.87,252.86 L472.81,250.85 L470.92,248.81 L469.19,246.75 L467.63,244.67 L466.24,242.57 L465.02,240.46 L463.96,238.34 L463.07,236.21 L462.34,234.08 L461.77,231.95 L461.36,229.82 L461.11,227.70 L461.02,225.59 L461.07,223.49 L461.28,221.41 L461.64,219.34 L462.14,217.29 L462.78,215.26 L463.56,213.26 L463.56,216.30 L462.78,218.32 L462.14,220.37 L461.64,222.44 L461.28,224.52 L461.07,226.63 L461.02,228.74 L461.11,230.87 L461.36,233.01 L461.77,235.16 L462.34,237.31 L463.07,239.45 L463.96,241.60 L465.02,243.74 L466.24,245.87 L467.63,247.98 L469.19,250.08 L470.92,252.16 L472.81,254.22 L474.87,256.24 L477.10,258.24 L479.49,260.20 L482.05,262.12 L484.77,263.99 L487.64,265.82 L490.68,267.60 Z" fill="#000" fill-opacity="0.114"/>
<path d="M490.68,267.60 L487.64,265.82 L484.77,263.99 L482.05,262.12 L479.49,260.20 L477.10,258.24 L474.87,256.24 L472.81,254.22 L470.92,252.16 L469.19,250.08 L467.63,247.98 L466.24,245.87 L465.02,243.74 L463.96,241.60 L463.07,239.45 L462.34,237.31 L461.77,235.16 L461.36,233.01 L461.11,230.87 L461.02,228.74 L461.07,226.63 L461.28,224.52 L461.64,222.44 L462.14,220.37 L462.78,218.32 L463.56,216.30 L463.56,219.35 L462.78,221.39 L462.14,223.45 L461.64,225.54 L461.28,227.64 L461.07,229.76 L461.02,231.90 L461.11,234.04 L461.36,236.20 L461.77,238.37 L462.34,240.53 L463.07,242.70 L463.96,244.86 L465.02,247.02 L466.24,249.17 L467.63,251.30 L469.19,253.42 L470.92,255.51 L472.81,257.59 L474.87,259.63 L477.10,261.64 L479.49,263.62 L482.05,265.56 L484.77,267.45 L487.64,269.29 L490.68,271.09 Z" fill="#000" fill-opacity="0.143"/>
<path d="M490.68,271.09 L487.64,269.29 L484.77,267.45 L482.05,265.56 L479.49,263.62 L477.10,261.64 L474.87,259.63 L472.81,257.59 L470.92,255.51 L469.19,253.42 L467.63,251.30 L466.24,249.17 L465.02,247.02 L463.96,244.86 L463.07,242.70 L462.34,240.53 L461.77,238.37 L461.36,236.20 L461.11,234.04 L461.02,231.90 L461.07,229.76 L461.28,227.64 L461.64,225.54 L462.14,223.45 L462.78,221.39 L463.56,219.35 L463.56,222.40 L462.78,224.45 L462.14,226.53 L461.64,228.64 L461.28,230.76 L461.07,232.90 L461.02,235.05 L461.11,237.22 L461.36,239.39 L461.77,241.57 L462.34,243.76 L463.07,245.94 L463.96,248.13 L465.02,250.30 L466.24,252.47 L467.63,254.62 L469.19,256.75 L470.92,258.87 L472.81,260.96 L474.87,263.02 L477.10,265.05 L479.49,267.04 L482.05,268.99 L484.77,270.90 L487.64,272.76 L490.68,274.57 Z" fill="#000" fill-opacity="0.171"/>
<path d="M463.56,201.07 L464.59,198.94 L465.78,196.85 L467.13,194.79 L468.63,192.77 L468.63,213.58 L467.13,215.73 L465.78,217.91 L464.59,220.14 L463.56,222.40 Z" fill="url(#ps5)"/>
<path d="M463.56,204.12 L464.59,201.97 L465.78,199.86 L467.13,197.78 L468.63,195.74 L468.63,198.72 L467.13,200.77 L465.78,202.87 L464.59,205.00 L463.56,207.16 Z" fill="#000" fill-opacity="0.029"/>
<path d="M463.56,207.16 L464.59,205.00 L465.78,202.87 L467.13,200.77 L468.63,198.72 L468.63,201.69 L467.13,203.76 L465.78,205.88 L464.59,208.03 L463.56,210.21 Z" fill="#000" fill-opacity="0.057"/>
<path d="M463.56,210.21 L464.59,208.03 L465.78,205.88 L467.13,203.76 L468.63,201.69 L468.63,204.66 L467.13,206.75 L465.78,208.89 L464.59,211.05 L463.56,213.26 Z" fill="#000" fill-opacity="0.086"/>
<path d="M463.56,213.26 L464.59,211.05 L465.78,208.89 L467.13,206.75 L468.63,204.66 L468.63,207.64 L467.13,209.75 L465.78,211.89 L464.59,214.08 L463.56,216.30 Z" fill="#000" fill-opacity="0.114"/>
<path d="M463.56,216.30 L464.59,214.08 L465.78,211.89 L467.13,209.75 L468.63,207.64 L468.63,210.61 L467.13,212.74 L465.78,214.90 L464.59,217.11 L463.56,219.35 Z" fill="#000" fill-opacity="0.143"/>
<path d="M463.56,219.35 L464.59,217.11 L465.78,214.90 L467.13,212.74 L468.63,210.61 L468.63,213.58 L467.13,215.73 L465.78,217.91 L464.59,220.14 L463.56,222.40 Z" fill="#000" fill-opacity="0.171"/>
<path d="M582.02,200.26 L672.23,174.71 L672.23,194.40 L582.02,221.54 Z" fill="#3d5d6b"/>
<path d="M582.02,200.26 L581.44,153.88 L584.95,153.90 L588.45,153.98 L591.95,154.11 L595.43,154.28 L598.91,154.51 L602.38,154.79 L605.83,155.12 L609.27,155.50 L612.68,155.92 L616.07,156.40 L619.44,156.93 L622.77,157.51 L626.07,158.14 L629.34,158.82 L632.58,159.54 L635.77,160.32 L638.92,161.15 L642.02,162.02 L645.07,162.94 L648.08,163.91 L651.02,164.93 L653.91,165.99 L656.74,167.10 L659.50,168.26 L662.20,169.46 L664.82,170.71 L667.37,172.00 L669.84,173.33 L672.23,174.71 Z" fill="#93cde0" stroke="#93cde0" stroke-width="0.6" stroke-linejoin="round"/>
<path d="M577.80,203.80 L669.20,177.74 L671.48,179.17 L673.68,180.64 L675.79,182.15 L677.81,183.71 L679.73,185.30 L681.55,186.92 L683.26,188.59 L684.87,190.29 L686.37,192.02 L687.75,193.78 L689.01,195.58 L690.16,197.41 L691.18,199.26 L692.07,201.14 L692.84,203.04 L693.46,204.97 L693.96,206.91 L694.31,208.88 L694.52,210.86 L694.59,212.85 L694.50,214.85 L694.27,216.87 L693.89,218.89 L693.35,220.91 L692.65,222.93 L691.80,224.95 L690.78,226.97 L689.61,228.98 L688.27,230.97 Z" fill="#0a6aa0" stroke="#0a6aa0" stroke-width="0.6" stroke-linejoin="round"/>
<path d="M577.80,203.80 L688.27,230.97 L686.77,232.96 L685.10,234.93 L683.27,236.88 L681.27,238.81 L679.11,240.71 L676.79,242.57 L674.31,244.40 L671.67,246.19 L668.88,247.93 L665.93,249.63 L662.83,251.28 L659.58,252.87 L656.19,254.41 L652.67,255.89 L649.01,257.30 L645.22,258.65 L641.31,259.92 L637.28,261.12 L633.15,262.25 L628.91,263.29 L624.57,264.26 L620.14,265.13 L615.64,265.93 L611.06,266.63 L606.42,267.25 L601.73,267.77 Z" fill="#8ed8c4" stroke="#8ed8c4" stroke-width="0.6" stroke-linejoin="round"/>
<path d="M577.80,203.80 L601.73,267.77 L596.86,268.21 L591.96,268.55 L587.02,268.78 L582.07,268.92 L577.11,268.96 L572.15,268.89 L567.20,268.73 L562.28,268.46 L557.38,268.09 L552.53,267.63 L547.73,267.06 L542.99,266.40 L538.32,265.65 L533.73,264.80 L529.23,263.87 L524.82,262.84 L520.52,261.73 L516.33,260.54 L512.26,259.27 L508.31,257.92 L504.50,256.51 L500.82,255.02 L497.29,253.47 L493.91,251.85 L490.68,250.18 Z" fill="url(#pt3)" stroke="#0b94d4" stroke-width="0.6" stroke-linejoin="round"/>
<path d="M577.80,203.80 L490.68,250.18 L487.64,248.48 L484.77,246.72 L482.05,244.93 L479.49,243.09 L477.10,241.21 L474.87,239.30 L472.81,237.36 L470.92,235.40 L469.19,233.41 L467.63,231.40 L466.24,229.37 L465.02,227.33 L463.96,225.29 L463.07,223.23 L462.34,221.17 L461.77,219.12 L461.36,217.06 L461.11,215.02 L461.02,212.98 L461.07,210.95 L461.28,208.94 L461.64,206.94 L462.14,204.96 L462.78,203.00 L463.56,201.07 Z" fill="#1c566c" stroke="#1c566c" stroke-width="0.6" stroke-linejoin="round"/>
<path d="M577.80,203.80 L463.56,201.07 L464.45,199.20 L465.47,197.35 L466.62,195.53 L467.88,193.75 L469.26,191.99 L470.75,190.26 L472.36,188.57 L474.07,186.91 L475.88,185.29 L477.79,183.71 L479.80,182.16 L481.90,180.65 L484.09,179.19 L486.37,177.76 L488.73,176.38 L491.17,175.04 L493.68,173.74 L496.27,172.49 L498.93,171.28 L501.65,170.11 L504.44,168.99 L507.29,167.92 L510.20,166.89 Z" fill="#95d5f3" stroke="#95d5f3" stroke-width="0.6" stroke-linejoin="round"/>
<path d="M577.80,203.80 L510.20,166.89 L513.24,165.89 L516.33,164.94 L519.47,164.03 L522.65,163.18 L525.89,162.38 L529.16,161.63 L532.48,160.92 L535.83,160.27 L539.21,159.68 L542.62,159.13 L546.06,158.63 L549.53,158.19 L553.01,157.80 L556.52,157.46 L560.04,157.17 L563.58,156.94 L567.12,156.75 L570.68,156.62 L574.24,156.54 L577.80,156.52 Z" fill="url(#pt6)" stroke="#12344c" stroke-width="0.6" stroke-linejoin="round"/>
</svg>
<svg class="abs" width="1300" height="400" style="left:0;top:0"><defs>
<linearGradient id="bg1" x1="0" y1="0" x2="1" y2="0"><stop offset="0" stop-color="#0f3846"/><stop offset="0.06" stop-color="#144e60"/><stop offset="0.3" stop-color="#155265"/><stop offset="0.6" stop-color="#1a6174"/><stop offset="0.75" stop-color="#155668"/><stop offset="0.87" stop-color="#103e4d"/><stop offset="1" stop-color="#0d3340"/></linearGradient>
<linearGradient id="flr" x1="0" y1="0" x2="0" y2="1"><stop offset="0" stop-color="#f4f7f8"/><stop offset="1" stop-color="#cdd6da"/></linearGradient>
</defs>
<path d="M827.0,295.5 L835.0,287.5 L1253.0,287.5 L1245.0,295.5 Z" fill="url(#flr)"/>
<path d="M842.9,295.5 L842.9,141.72 Q842.9,137.72 846.9,135.22 L849.9,132.72 Q852.9,131.72 855.9,131.72 L876.6,131.72 Q882.6,131.72 882.6,137.72 L882.6,287.5 L874.6,295.5 Z" fill="url(#bg1)"/>
<ellipse cx="869.90" cy="137.72" rx="3" ry="2" fill="#3f8ea3" fill-opacity="0.45"/>
<path d="M902.65,295.5 L902.65,148.62 Q902.65,144.62 906.65,142.12 L909.65,139.62 Q912.65,138.62 915.65,138.62 L936.35,138.62 Q942.35,138.62 942.35,144.62 L942.35,287.5 L934.35,295.5 Z" fill="url(#bg1)"/>
<ellipse cx="929.65" cy="144.62" rx="3" ry="2" fill="#3f8ea3" fill-opacity="0.45"/>
<path d="M962.4,295.5 L962.4,163.42 Q962.4,159.42 966.4,156.92 L969.4,154.42 Q972.4,153.42 975.4,153.42 L996.1,153.42 Q1002.1,153.42 1002.1,159.42 L1002.1,287.5 L994.1,295.5 Z" fill="url(#bg1)"/>
<ellipse cx="989.40" cy="159.42" rx="3" ry="2" fill="#3f8ea3" fill-opacity="0.45"/>
<path d="M1022.15,295.5 L1022.15,163.54 Q1022.15,159.54 1026.15,157.04 L1029.15,154.54 Q1032.15,153.54 1035.15,153.54 L1055.85,153.54 Q1061.85,153.54 1061.85,159.54 L1061.85,287.5 L1053.85,295.5 Z" fill="url(#bg1)"/>
<ellipse cx="1049.15" cy="159.54" rx="3" ry="2" fill="#3f8ea3" fill-opacity="0.45"/>
<path d="M1081.9,295.5 L1081.9,164.35 Q1081.9,160.35 1085.9,157.85 L1088.9,155.35 Q1091.9,154.35 1094.9,154.35 L1115.6000000000001,154.35 Q1121.6000000000001,154.35 1121.6000000000001,160.35 L1121.6000000000001,287.5 L1113.6000000000001,295.5 Z" fill="url(#bg1)"/>
<ellipse cx="1108.90" cy="160.35" rx="3" ry="2" fill="#3f8ea3" fill-opacity="0.45"/>
<path d="M1141.65,295.5 L1141.65,181.56 Q1141.65,177.56 1145.65,175.06 L1148.65,172.56 Q1151.65,171.56 1154.65,171.56 L1175.3500000000001,171.56 Q1181.3500000000001,171.56 1181.3500000000001,177.56 L1181.3500000000001,287.5 L1173.3500000000001,295.5 Z" fill="url(#bg1)"/>
<ellipse cx="1168.65" cy="177.56" rx="3" ry="2" fill="#3f8ea3" fill-opacity="0.45"/>
<path d="M1201.4,295.5 L1201.4,191.02 Q1201.4,187.02 1205.4,184.52 L1208.4,182.02 Q1211.4,181.02 1214.4,181.02 L1235.1000000000001,181.02 Q1241.1000000000001,181.02 1241.1000000000001,187.02 L1241.1000000000001,287.5 L1233.1000000000001,295.5 Z" fill="url(#bg1)"/>
<ellipse cx="1228.40" cy="187.02" rx="3" ry="2" fill="#3f8ea3" fill-opacity="0.45"/>
<path d="M827.0,295.5 L1245.0,295.5" stroke="#2a86b5" stroke-width="1.3"/>
<path d="M827.0,295.5 L827.0,136.7" stroke="#2a86b5" stroke-width="1.3"/>
<path d="M823.0,295.50 L827.0,295.50" stroke="#2a86b5" stroke-width="1"/>
<path d="M823.0,275.88 L827.0,275.88" stroke="#2a86b5" stroke-width="1"/>
<path d="M823.0,256.25 L827.0,256.25" stroke="#2a86b5" stroke-width="1"/>
<path d="M823.0,236.62 L827.0,236.62" stroke="#2a86b5" stroke-width="1"/>
<path d="M823.0,217.00 L827.0,217.00" stroke="#2a86b5" stroke-width="1"/>
<path d="M823.0,197.38 L827.0,197.38" stroke="#2a86b5" stroke-width="1"/>
<path d="M823.0,177.75 L827.0,177.75" stroke="#2a86b5" stroke-width="1"/>
<path d="M823.0,158.12 L827.0,158.12" stroke="#2a86b5" stroke-width="1"/>
<path d="M823.0,138.50 L827.0,138.50" stroke="#2a86b5" stroke-width="1"/>
<path d="M827.00,295.5 L827.00,298.5" stroke="#2a86b5" stroke-width="1"/>
<path d="M886.71,295.5 L886.71,298.5" stroke="#2a86b5" stroke-width="1"/>
<path d="M946.43,295.5 L946.43,298.5" stroke="#2a86b5" stroke-width="1"/>
<path d="M1006.14,295.5 L1006.14,298.5" stroke="#2a86b5" stroke-width="1"/>
<path d="M1065.86,295.5 L1065.86,298.5" stroke="#2a86b5" stroke-width="1"/>
<path d="M1125.57,295.5 L1125.57,298.5" stroke="#2a86b5" stroke-width="1"/>
<path d="M1185.29,295.5 L1185.29,298.5" stroke="#2a86b5" stroke-width="1"/>
<path d="M1245.00,295.5 L1245.00,298.5" stroke="#2a86b5" stroke-width="1"/>
</svg>
<svg class="abs" width="1300" height="698" style="left:0;top:0"><defs>
<linearGradient id="pf0" x1="0" y1="0" x2="1" y2="0"><stop offset="0" stop-color="#17c0ee"/><stop offset="1" stop-color="#74f6ff"/></linearGradient>
<linearGradient id="pf1" x1="0" y1="0" x2="1" y2="0"><stop offset="0" stop-color="#3a9cbf"/><stop offset="1" stop-color="#3ea3c4"/></linearGradient>
<linearGradient id="pf2" x1="0" y1="0" x2="1" y2="0"><stop offset="0" stop-color="#1777b3"/><stop offset="1" stop-color="#1a7fba"/></linearGradient>
<linearGradient id="pf3" x1="0" y1="0" x2="1" y2="0"><stop offset="0" stop-color="#3ca48b"/><stop offset="1" stop-color="#42a890"/></linearGradient>
<linearGradient id="pf4" x1="0" y1="0" x2="1" y2="0"><stop offset="0" stop-color="#27765e"/><stop offset="1" stop-color="#2a7b62"/></linearGradient>
<linearGradient id="pf5" x1="0" y1="0" x2="1" y2="0"><stop offset="0" stop-color="#3a8cbf"/><stop offset="1" stop-color="#92d9f8"/></linearGradient>
<linearGradient id="pf6" x1="0" y1="0" x2="1" y2="0"><stop offset="0" stop-color="#2e9a40"/><stop offset="1" stop-color="#92f2a4"/></linearGradient>
</defs>
<path d="M560.15,632.40 L595.75,606.10 L525.57,426.50 Z" fill="#a2cde0" />
<path d="M455.40,632.40 L560.15,632.40 L525.57,426.50 Z" fill="#b3e3f6" />
<path d="M499.19,563.53 L579.12,563.53 L525.57,426.50 Z" fill="#000" fill-opacity="0.02"/>
<path d="M560.15,632.40 L595.75,606.10 L579.12,563.53 L551.96,583.60 Z" fill="#4db7ae" />
<path d="M472.03,583.60 L551.96,583.60 L579.12,563.53 L499.19,563.53 Z" fill="#29a7c8" />
<path d="M455.40,632.40 L560.15,632.40 L551.96,583.60 L472.03,583.60 Z" fill="url(#pf0)" />
<path d="M664.90,632.40 L700.50,606.10 L630.32,426.50 Z" fill="#a9bfc6" />
<path d="M560.15,632.40 L664.90,632.40 L630.32,426.50 Z" fill="#b6cfd8" />
<path d="M603.43,566.23 L684.92,566.23 L630.32,426.50 Z" fill="#000" fill-opacity="0.02"/>
<path d="M664.90,632.40 L700.50,606.10 L684.92,566.23 L657.22,586.69 Z" fill="#2a7b8a" />
<path d="M575.73,586.69 L657.22,586.69 L684.92,566.23 L603.43,566.23 Z" fill="#246f87" />
<path d="M560.15,632.40 L664.90,632.40 L657.22,586.69 L575.73,586.69 Z" fill="url(#pf1)" />
<path d="M769.65,632.40 L805.25,606.10 L735.07,426.50 Z" fill="#a9bec5" />
<path d="M664.90,632.40 L769.65,632.40 L735.07,426.50 Z" fill="#b6cfd8" />
<path d="M708.11,566.59 L789.81,566.59 L735.07,426.50 Z" fill="#000" fill-opacity="0.02"/>
<path d="M769.65,632.40 L805.25,606.10 L789.81,566.59 L762.04,587.10 Z" fill="#0f5a84" />
<path d="M680.34,587.10 L762.04,587.10 L789.81,566.59 L708.11,566.59 Z" fill="#15618a" />
<path d="M664.90,632.40 L769.65,632.40 L762.04,587.10 L680.34,587.10 Z" fill="url(#pf2)" />
<path d="M874.40,632.40 L910.00,606.10 L839.82,426.50 Z" fill="#bac7b1" />
<path d="M769.65,632.40 L874.40,632.40 L839.82,426.50 Z" fill="#c9ddc1" />
<path d="M812.75,567.13 L894.77,567.13 L839.82,426.50 Z" fill="#000" fill-opacity="0.02"/>
<path d="M874.40,632.40 L910.00,606.10 L894.77,567.13 L866.90,587.72 Z" fill="#2b725a" />
<path d="M784.88,587.72 L866.90,587.72 L894.77,567.13 L812.75,567.13 Z" fill="#3a7f56" />
<path d="M769.65,632.40 L874.40,632.40 L866.90,587.72 L784.88,587.72 Z" fill="url(#pf3)" />
<path d="M979.15,632.40 L1014.75,606.10 L944.57,426.50 Z" fill="#a9bec5" />
<path d="M874.40,632.40 L979.15,632.40 L944.57,426.50 Z" fill="#b6cfd8" />
<path d="M917.30,568.20 L999.94,568.20 L944.57,426.50 Z" fill="#000" fill-opacity="0.02"/>
<path d="M979.15,632.40 L1014.75,606.10 L999.94,568.20 L971.85,588.96 Z" fill="#1c5446" />
<path d="M889.21,588.96 L971.85,588.96 L999.94,568.20 L917.30,568.20 Z" fill="#1f5a4f" />
<path d="M874.40,632.40 L979.15,632.40 L971.85,588.96 L889.21,588.96 Z" fill="url(#pf4)" />
<path d="M1083.90,632.40 L1119.50,606.10 L1049.33,426.50 Z" fill="#abbec7" />
<path d="M979.15,632.40 L1083.90,632.40 L1049.33,426.50 Z" fill="#b9ced7" />
<path d="M1021.63,570.36 L1105.54,570.36 L1049.33,426.50 Z" fill="#000" fill-opacity="0.02"/>
<path d="M1083.90,632.40 L1119.50,606.10 L1105.54,570.36 L1077.02,591.43 Z" fill="#5a91a9" />
<path d="M993.11,591.43 L1077.02,591.43 L1105.54,570.36 L1021.63,570.36 Z" fill="#3b7a9b" />
<path d="M979.15,632.40 L1083.90,632.40 L1077.02,591.43 L993.11,591.43 Z" fill="url(#pf5)" />
<path d="M1188.65,632.40 L1224.25,606.10 L1154.08,426.50 Z" fill="#c4ddd5" />
<path d="M1083.90,632.40 L1188.65,632.40 L1154.08,426.50 Z" fill="#d5f2e6" />
<path d="M1123.51,585.27 L1216.11,585.27 L1154.08,426.50 Z" fill="#000" fill-opacity="0.02"/>
<path d="M1188.65,632.40 L1224.25,606.10 L1216.11,585.27 L1184.64,608.52 Z" fill="#4f9b5f" />
<path d="M1092.04,608.52 L1184.64,608.52 L1216.11,585.27 L1123.51,585.27 Z" fill="#5cae6d" />
<path d="M1083.90,632.40 L1188.65,632.40 L1184.64,608.52 L1092.04,608.52 Z" fill="url(#pf6)" />
</svg>
<svg class="abs" width="1600" height="698" style="left:0;top:0"><defs>
<linearGradient id="btn" x1="0" y1="0" x2="0" y2="1"><stop offset="0" stop-color="#2b8ca8"/><stop offset="0.5" stop-color="#25829e"/><stop offset="1" stop-color="#1d687c"/></linearGradient>
</defs>
<rect x="1302.2" y="97.65" width="223.80" height="1.5" fill="#5b9aa6"/>
<path d="M1467.20,78.20 L1469.90,80.70 L1474.90,76.10" fill="none" stroke="#3c3c3c" stroke-width="1.25"/>
<rect x="1476.40" y="79.00" width="9.2" height="1.5" fill="#4a4a4a"/>
<path d="M1467.20,84.05 L1469.90,86.55 L1474.90,81.95" fill="none" stroke="#3c3c3c" stroke-width="1.25"/>
<rect x="1476.40" y="84.85" width="9.2" height="1.5" fill="#4a4a4a"/>
<path d="M1467.20,89.90 L1469.90,92.40 L1474.90,87.80" fill="none" stroke="#3c3c3c" stroke-width="1.25"/>
<rect x="1476.40" y="90.70" width="9.2" height="1.5" fill="#4a4a4a"/>
<path d="M1504.10,76.30 L1519.10,76.30 Q1520.10,76.30 1519.90,77.90 Q1518.50,81.50 1514.90,84.50 L1511.60,86.50 L1511.60,93.30 L1509.80,93.30 L1509.80,86.50 Q1504.50,81.80 1503.30,77.90 Q1503.10,76.30 1504.10,76.30 Z" fill="#ebebeb" stroke="#8c8c8c" stroke-width="1"/><path d="M1513.30,85.30 L1521.50,93.90 M1521.50,85.30 L1513.30,93.90" stroke="#9a9a9a" stroke-width="1"/>
<rect x="1301.60" y="103.50" width="72.80" height="27.00" rx="2.6" fill="#dff6fa"/>
<rect x="1302.20" y="104.10" width="71.60" height="25.80" rx="2" fill="url(#btn)"/>
<rect x="1299" y="171.55" width="229.80" height="1.5" fill="#5b9aa6"/>
<path d="M1470.20,152.50 L1472.90,155.00 L1477.90,150.40" fill="none" stroke="#3c3c3c" stroke-width="1.25"/>
<rect x="1479.40" y="153.30" width="9.2" height="1.5" fill="#4a4a4a"/>
<path d="M1470.20,158.35 L1472.90,160.85 L1477.90,156.25" fill="none" stroke="#3c3c3c" stroke-width="1.25"/>
<rect x="1479.40" y="159.15" width="9.2" height="1.5" fill="#4a4a4a"/>
<path d="M1470.20,164.20 L1472.90,166.70 L1477.90,162.10" fill="none" stroke="#3c3c3c" stroke-width="1.25"/>
<rect x="1479.40" y="165.00" width="9.2" height="1.5" fill="#4a4a4a"/>
<path d="M1506.10,150.60 L1521.10,150.60 Q1522.10,150.60 1521.90,152.20 Q1520.50,155.80 1516.90,158.80 L1513.60,160.80 L1513.60,167.60 L1511.80,167.60 L1511.80,160.80 Q1506.50,156.10 1505.30,152.20 Q1505.10,150.60 1506.10,150.60 Z" fill="#ebebeb" stroke="#8c8c8c" stroke-width="1"/><path d="M1515.30,159.60 L1523.50,168.20 M1523.50,159.60 L1515.30,168.20" stroke="#9a9a9a" stroke-width="1"/>
<rect x="1299.10" y="177.70" width="74.30" height="30.90" rx="3.1" fill="#dff6fa"/>
<rect x="1299.70" y="178.30" width="73.10" height="29.70" rx="2.5" fill="url(#btn)"/>
<rect x="1376.90" y="177.70" width="74.30" height="30.90" rx="3.1" fill="#dff6fa"/>
<rect x="1377.50" y="178.30" width="73.10" height="29.70" rx="2.5" fill="url(#btn)"/>
<rect x="1454.70" y="177.70" width="74.30" height="30.90" rx="3.1" fill="#dff6fa"/>
<rect x="1455.30" y="178.30" width="73.10" height="29.70" rx="2.5" fill="url(#btn)"/>
<rect x="1299.10" y="212.30" width="74.30" height="30.90" rx="3.1" fill="#dff6fa"/>
<rect x="1299.70" y="212.90" width="73.10" height="29.70" rx="2.5" fill="url(#btn)"/>
<rect x="1376.90" y="212.30" width="74.30" height="30.90" rx="3.1" fill="#dff6fa"/>
<rect x="1377.50" y="212.90" width="73.10" height="29.70" rx="2.5" fill="url(#btn)"/>
<rect x="1454.70" y="212.30" width="74.30" height="30.90" rx="3.1" fill="#dff6fa"/>
<rect x="1455.30" y="212.90" width="73.10" height="29.70" rx="2.5" fill="url(#btn)"/>
<rect x="1299.10" y="246.90" width="74.30" height="30.90" rx="3.1" fill="#dff6fa"/>
<rect x="1299.70" y="247.50" width="73.10" height="29.70" rx="2.5" fill="url(#btn)"/>
<rect x="1376.90" y="246.90" width="74.30" height="30.90" rx="3.1" fill="#dff6fa"/>
<rect x="1377.50" y="247.50" width="73.10" height="29.70" rx="2.5" fill="url(#btn)"/>
<rect x="1454.70" y="246.90" width="74.30" height="30.90" rx="3.1" fill="#dff6fa"/>
<rect x="1455.30" y="247.50" width="73.10" height="29.70" rx="2.5" fill="url(#btn)"/>
<rect x="1299.10" y="281.60" width="74.30" height="30.90" rx="3.1" fill="#dff6fa"/>
<rect x="1299.70" y="282.20" width="73.10" height="29.70" rx="2.5" fill="url(#btn)"/>
<rect x="1376.90" y="281.60" width="74.30" height="30.90" rx="3.1" fill="#dff6fa"/>
<rect x="1377.50" y="282.20" width="73.10" height="29.70" rx="2.5" fill="url(#btn)"/>
<rect x="1300.6" y="357.75" width="228.80" height="1.5" fill="#5b9aa6"/>
<path d="M1471.40,341.10 L1474.10,343.60 L1479.10,339.00" fill="none" stroke="#3c3c3c" stroke-width="1.25"/>
<rect x="1480.60" y="341.90" width="9.2" height="1.5" fill="#4a4a4a"/>
<path d="M1471.40,346.95 L1474.10,349.45 L1479.10,344.85" fill="none" stroke="#3c3c3c" stroke-width="1.25"/>
<rect x="1480.60" y="347.75" width="9.2" height="1.5" fill="#4a4a4a"/>
<path d="M1471.40,352.80 L1474.10,355.30 L1479.10,350.70" fill="none" stroke="#3c3c3c" stroke-width="1.25"/>
<rect x="1480.60" y="353.60" width="9.2" height="1.5" fill="#4a4a4a"/>
<path d="M1507.80,338.50 L1522.80,338.50 Q1523.80,338.50 1523.60,340.10 Q1522.20,343.70 1518.60,346.70 L1515.30,348.70 L1515.30,355.50 L1513.50,355.50 L1513.50,348.70 Q1508.20,344.00 1507.00,340.10 Q1506.80,338.50 1507.80,338.50 Z" fill="#ebebeb" stroke="#8c8c8c" stroke-width="1"/><path d="M1517.00,347.50 L1525.20,356.10 M1525.20,347.50 L1517.00,356.10" stroke="#9a9a9a" stroke-width="1"/>
<rect x="1300.00" y="364.80" width="74.30" height="30.70" rx="3.1" fill="#dff6fa"/>
<rect x="1300.60" y="365.40" width="73.10" height="29.50" rx="2.5" fill="url(#btn)"/>
<rect x="1377.90" y="364.80" width="74.30" height="30.70" rx="3.1" fill="#dff6fa"/>
<rect x="1378.50" y="365.40" width="73.10" height="29.50" rx="2.5" fill="url(#btn)"/>
<rect x="1455.80" y="364.80" width="74.30" height="30.70" rx="3.1" fill="#dff6fa"/>
<rect x="1456.40" y="365.40" width="73.10" height="29.50" rx="2.5" fill="url(#btn)"/>
<rect x="1300.00" y="399.40" width="74.30" height="30.70" rx="3.1" fill="#dff6fa"/>
<rect x="1300.60" y="400.00" width="73.10" height="29.50" rx="2.5" fill="url(#btn)"/>
<rect x="1377.90" y="399.40" width="74.30" height="30.70" rx="3.1" fill="#dff6fa"/>
<rect x="1378.50" y="400.00" width="73.10" height="29.50" rx="2.5" fill="url(#btn)"/>
<rect x="1455.80" y="399.40" width="74.30" height="30.70" rx="3.1" fill="#dff6fa"/>
<rect x="1456.40" y="400.00" width="73.10" height="29.50" rx="2.5" fill="url(#btn)"/>
<rect x="1300.00" y="434.00" width="74.30" height="30.70" rx="3.1" fill="#dff6fa"/>
<rect x="1300.60" y="434.60" width="73.10" height="29.50" rx="2.5" fill="url(#btn)"/>
<rect x="1377.90" y="434.00" width="74.30" height="30.70" rx="3.1" fill="#dff6fa"/>
<rect x="1378.50" y="434.60" width="73.10" height="29.50" rx="2.5" fill="url(#btn)"/>
<rect x="1298" y="510.75" width="229.70" height="1.5" fill="#5b9aa6"/>
<path d="M1469.00,490.90 L1471.70,493.40 L1476.70,488.80" fill="none" stroke="#3c3c3c" stroke-width="1.25"/>
<rect x="1478.20" y="491.70" width="9.2" height="1.5" fill="#4a4a4a"/>
<path d="M1469.00,496.75 L1471.70,499.25 L1476.70,494.65" fill="none" stroke="#3c3c3c" stroke-width="1.25"/>
<rect x="1478.20" y="497.55" width="9.2" height="1.5" fill="#4a4a4a"/>
<path d="M1469.00,502.60 L1471.70,505.10 L1476.70,500.50" fill="none" stroke="#3c3c3c" stroke-width="1.25"/>
<rect x="1478.20" y="503.40" width="9.2" height="1.5" fill="#4a4a4a"/>
<path d="M1504.40,488.50 L1519.40,488.50 Q1520.40,488.50 1520.20,490.10 Q1518.80,493.70 1515.20,496.70 L1511.90,498.70 L1511.90,505.50 L1510.10,505.50 L1510.10,498.70 Q1504.80,494.00 1503.60,490.10 Q1503.40,488.50 1504.40,488.50 Z" fill="#ebebeb" stroke="#8c8c8c" stroke-width="1"/><path d="M1513.60,497.50 L1521.80,506.10 M1521.80,497.50 L1513.60,506.10" stroke="#9a9a9a" stroke-width="1"/>
<rect x="1298.20" y="516.40" width="54.70" height="30.70" rx="3.1" fill="#dff6fa"/>
<rect x="1298.80" y="517.00" width="53.50" height="29.50" rx="2.5" fill="url(#btn)"/>
<rect x="1356.40" y="516.40" width="54.70" height="30.70" rx="3.1" fill="#dff6fa"/>
<rect x="1357.00" y="517.00" width="53.50" height="29.50" rx="2.5" fill="url(#btn)"/>
<rect x="1414.60" y="516.40" width="54.70" height="30.70" rx="3.1" fill="#dff6fa"/>
<rect x="1415.20" y="517.00" width="53.50" height="29.50" rx="2.5" fill="url(#btn)"/>
<rect x="1302.7" y="606.45" width="223.00" height="1.5" fill="#5b9aa6"/>
<path d="M1467.20,586.70 L1469.90,589.20 L1474.90,584.60" fill="none" stroke="#3c3c3c" stroke-width="1.25"/>
<rect x="1476.40" y="587.50" width="9.2" height="1.5" fill="#4a4a4a"/>
<path d="M1467.20,592.55 L1469.90,595.05 L1474.90,590.45" fill="none" stroke="#3c3c3c" stroke-width="1.25"/>
<rect x="1476.40" y="593.35" width="9.2" height="1.5" fill="#4a4a4a"/>
<path d="M1467.20,598.40 L1469.90,600.90 L1474.90,596.30" fill="none" stroke="#3c3c3c" stroke-width="1.25"/>
<rect x="1476.40" y="599.20" width="9.2" height="1.5" fill="#4a4a4a"/>
<path d="M1503.80,584.60 L1518.80,584.60 Q1519.80,584.60 1519.60,586.20 Q1518.20,589.80 1514.60,592.80 L1511.30,594.80 L1511.30,601.60 L1509.50,601.60 L1509.50,594.80 Q1504.20,590.10 1503.00,586.20 Q1502.80,584.60 1503.80,584.60 Z" fill="#ebebeb" stroke="#8c8c8c" stroke-width="1"/><path d="M1513.00,593.60 L1521.20,602.20 M1521.20,593.60 L1513.00,602.20" stroke="#9a9a9a" stroke-width="1"/>
<rect x="1302.10" y="612.90" width="72.20" height="30.40" rx="3.1" fill="#dff6fa"/>
<rect x="1302.70" y="613.50" width="71.00" height="29.20" rx="2.5" fill="url(#btn)"/>
<rect x="1377.60" y="612.90" width="72.20" height="30.40" rx="3.1" fill="#dff6fa"/>
<rect x="1378.20" y="613.50" width="71.00" height="29.20" rx="2.5" fill="url(#btn)"/>
</svg>
<svg class="abs" width="1600" height="698" style="left:0;top:0;will-change:transform" font-family="Liberation Sans" font-weight="700"><text transform="translate(632.66,39.40) scale(0.9492,1)" font-size="30.00" fill="#fff" >Customer Segment Analysis</text>
<text transform="translate(155.14,87.00) scale(0.9334,1)" font-size="14.23" fill="#111" >Profit USD by Customer Segment</text>
<text transform="translate(184.94,140.90) scale(0.9480,1)" font-size="10.85" fill="#111" >3PL</text>
<text transform="translate(274.74,141.80) scale(1.0247,1)" font-size="10.70" fill="#111" >$44.6K</text>
<text transform="translate(163.30,220.70) scale(0.9962,1)" font-size="10.85" fill="#111" >Pharma</text>
<text transform="translate(310.83,221.60) scale(1.0364,1)" font-size="10.70" fill="#111" >$76.9K</text>
<text transform="translate(128.48,300.50) scale(1.0162,1)" font-size="10.85" fill="#111" >Manufacturing</text>
<text transform="translate(316.34,301.40) scale(1.0101,1)" font-size="10.70" fill="#111" >$81.5K</text>
<text transform="translate(144.23,380.30) scale(1.0017,1)" font-size="10.85" fill="#111" >Automotive</text>
<text transform="translate(318.73,381.20) scale(1.0510,1)" font-size="10.70" fill="#111" >$84.4K</text>
<text transform="translate(172.70,460.10) scale(0.9892,1)" font-size="10.85" fill="#111" >FMCG</text>
<text transform="translate(331.13,461.00) scale(1.0422,1)" font-size="10.70" fill="#111" >$95.4K</text>
<text transform="translate(145.00,539.90) scale(0.9997,1)" font-size="10.85" fill="#111" >Electronics</text>
<text transform="translate(343.73,540.80) scale(1.0325,1)" font-size="10.70" fill="#111" >$105.9K</text>
<text transform="translate(173.56,619.70) scale(1.0467,1)" font-size="10.85" fill="#111" >Retail</text>
<text transform="translate(351.93,620.60) scale(1.0529,1)" font-size="10.70" fill="#111" >$117.5K</text>
<text transform="translate(451.75,88.70) scale(0.9556,1)" font-size="15.21" fill="#111" >Total Booking by Customer Segment</text>
<text transform="translate(640.58,153.10) scale(0.9721,1)" font-size="11.13" fill="#111" >82, 16%</text>
<text transform="translate(703.37,206.70) scale(0.9770,1)" font-size="11.13" fill="#111" >81, 16%</text>
<text transform="translate(663.76,293.70) scale(0.9000,1)" font-size="12.11" fill="#111" >73, 15%</text>
<text transform="translate(495.37,308.80) scale(0.9415,1)" font-size="11.55" fill="#111" >72, 15%</text>
<text transform="translate(415.76,259.00) scale(0.9675,1)" font-size="11.27" fill="#111" >71, 14%</text>
<text transform="translate(429.52,183.10) scale(0.9987,1)" font-size="10.85" fill="#111" >64, 13%</text>
<text transform="translate(494.37,151.60) scale(1.0074,1)" font-size="10.99" fill="#111" >57, 11%</text>
<text transform="translate(884.65,83.70) scale(0.9694,1)" font-size="15.07" fill="#111" >Total Cost USD by Customer Segment</text>
<text transform="translate(804.02,299.40) scale(0.9850,1)" font-size="10.99" fill="#111" >$0</text>
<text transform="translate(780.81,279.77) scale(0.9850,1)" font-size="10.99" fill="#111" >$50.0K</text>
<text transform="translate(774.80,260.15) scale(0.9850,1)" font-size="10.99" fill="#111" >$100.0K</text>
<text transform="translate(774.80,240.53) scale(0.9850,1)" font-size="10.99" fill="#111" >$150.0K</text>
<text transform="translate(774.80,220.90) scale(0.9850,1)" font-size="10.99" fill="#111" >$200.0K</text>
<text transform="translate(774.80,201.28) scale(0.9850,1)" font-size="10.99" fill="#111" >$250.0K</text>
<text transform="translate(774.80,181.65) scale(0.9850,1)" font-size="10.99" fill="#111" >$300.0K</text>
<text transform="translate(774.80,162.03) scale(0.9850,1)" font-size="10.99" fill="#111" >$350.0K</text>
<text transform="translate(774.80,142.40) scale(0.9850,1)" font-size="10.99" fill="#111" >$400.0K</text>
<text transform="translate(833.41,128.12) scale(1.0355,1)" font-size="12.11" fill="#111" >$396.5K</text>
<text transform="translate(893.41,135.02) scale(1.0312,1)" font-size="12.11" fill="#111" >$378.7K</text>
<text transform="translate(952.71,149.82) scale(1.0355,1)" font-size="12.11" fill="#111" >$340.5K</text>
<text transform="translate(1012.21,149.94) scale(1.0443,1)" font-size="12.11" fill="#111" >$340.2K</text>
<text transform="translate(1071.81,150.75) scale(1.0334,1)" font-size="12.11" fill="#111" >$338.1K</text>
<text transform="translate(1131.51,167.96) scale(1.0399,1)" font-size="12.11" fill="#111" >$293.7K</text>
<text transform="translate(1191.01,177.42) scale(1.0355,1)" font-size="12.11" fill="#111" >$269.3K</text>
<text transform="translate(858.66,310.20) rotate(-45) scale(0.9,1)" font-size="10.6" fill="#111" text-anchor="end">Electronics</text>
<text transform="translate(918.37,310.20) rotate(-45) scale(0.9,1)" font-size="10.6" fill="#111" text-anchor="end">Retail</text>
<text transform="translate(978.09,310.20) rotate(-45) scale(0.9,1)" font-size="10.6" fill="#111" text-anchor="end">Automotive</text>
<text transform="translate(1037.80,310.20) rotate(-45) scale(0.9,1)" font-size="10.6" fill="#111" text-anchor="end">3PL</text>
<text transform="translate(1097.51,310.20) rotate(-45) scale(0.9,1)" font-size="10.6" fill="#111" text-anchor="end">FMCG</text>
<text transform="translate(1157.23,310.20) rotate(-45) scale(0.9,1)" font-size="10.6" fill="#111" text-anchor="end">Manufacturing</text>
<text transform="translate(1216.94,310.20) rotate(-45) scale(0.9,1)" font-size="10.6" fill="#111" text-anchor="end">Pharma</text>
<text transform="translate(709.55,394.00) scale(0.9513,1)" font-size="15.35" fill="#111" >Profit Margin % by Customer Segment</text>
<text transform="translate(508.43,614.10) scale(0.9300,1)" font-size="12.96" fill="#111" >23.7%</text>
<text transform="translate(491.21,655.00) scale(0.9300,1)" font-size="13.10" fill="#111" >Retail</text>
<text transform="translate(613.18,615.65) scale(0.9300,1)" font-size="12.96" fill="#111" >22.2%</text>
<text transform="translate(589.75,655.00) scale(0.9300,1)" font-size="13.10" fill="#111" >Pharma</text>
<text transform="translate(717.93,615.85) scale(0.9300,1)" font-size="12.96" fill="#111" >22.0%</text>
<text transform="translate(699.34,655.00) scale(0.9300,1)" font-size="13.10" fill="#111" >FMCG</text>
<text transform="translate(822.68,616.16) scale(0.9300,1)" font-size="12.96" fill="#111" >21.7%</text>
<text transform="translate(780.06,655.00) scale(0.9300,1)" font-size="13.10" fill="#111" >Manufacturing</text>
<text transform="translate(927.43,616.78) scale(0.9300,1)" font-size="12.96" fill="#111" >21.1%</text>
<text transform="translate(893.79,655.00) scale(0.9300,1)" font-size="13.10" fill="#111" >Electronics</text>
<text transform="translate(1032.03,618.01) scale(0.9300,1)" font-size="12.96" fill="#111" >19.9%</text>
<text transform="translate(998.09,655.00) scale(0.9300,1)" font-size="13.10" fill="#111" >Automotive</text>
<text transform="translate(1137.11,626.56) scale(0.9300,1)" font-size="12.96" fill="#111" >11.6%</text>
<text transform="translate(1125.13,655.00) scale(0.9300,1)" font-size="13.10" fill="#111" >3PL</text>
<text transform="translate(1302.28,88.90) scale(0.9103,1)" font-size="11.83" fill="#1a1a1a" >Year</text>
<text transform="translate(1312.48,123.40) scale(1.0194,1)" font-size="11.69" fill="#f2fbff" >2025</text>
<text transform="translate(1298.98,163.00) scale(0.9103,1)" font-size="12.11" fill="#1a1a1a" >Month</text>
<text transform="translate(1309.74,197.90) scale(0.8873,1)" font-size="11.97" fill="#f2fbff" >Jan</text>
<text transform="translate(1387.01,197.90) scale(0.8873,1)" font-size="11.97" fill="#f2fbff" >Feb</text>
<text transform="translate(1464.81,197.90) scale(0.8873,1)" font-size="11.97" fill="#f2fbff" >Mar</text>
<text transform="translate(1309.63,232.50) scale(0.8873,1)" font-size="11.97" fill="#f2fbff" >Apr</text>
<text transform="translate(1387.01,232.50) scale(0.8873,1)" font-size="11.97" fill="#f2fbff" >May</text>
<text transform="translate(1465.34,232.50) scale(0.8873,1)" font-size="11.97" fill="#f2fbff" >Jun</text>
<text transform="translate(1309.74,267.10) scale(0.8873,1)" font-size="11.97" fill="#f2fbff" >Jul</text>
<text transform="translate(1387.43,267.10) scale(0.8873,1)" font-size="11.97" fill="#f2fbff" >Aug</text>
<text transform="translate(1465.18,267.10) scale(0.8873,1)" font-size="11.97" fill="#f2fbff" >Sep</text>
<text transform="translate(1309.48,301.80) scale(0.8873,1)" font-size="11.97" fill="#f2fbff" >Oct</text>
<text transform="translate(1387.01,301.80) scale(0.8873,1)" font-size="11.97" fill="#f2fbff" >Nov</text>
<text transform="translate(1299.92,350.30) scale(0.8276,1)" font-size="12.68" fill="#1a1a1a" >Destination Port</text>
<text transform="translate(1310.53,384.87) scale(0.8873,1)" font-size="11.97" fill="#f2fbff" >Antwerp</text>
<text transform="translate(1388.01,384.87) scale(0.8873,1)" font-size="11.97" fill="#f2fbff" >Dubai</text>
<text transform="translate(1465.91,384.87) scale(0.8873,1)" font-size="11.97" fill="#f2fbff" >Hamburg</text>
<text transform="translate(1310.11,419.47) scale(0.8873,1)" font-size="11.97" fill="#f2fbff" >Houston</text>
<text transform="translate(1388.01,419.47) scale(0.8873,1)" font-size="11.97" fill="#f2fbff" >Los Ang...</text>
<text transform="translate(1465.91,419.47) scale(0.8873,1)" font-size="11.97" fill="#f2fbff" >New York</text>
<text transform="translate(1310.11,454.07) scale(0.8873,1)" font-size="11.97" fill="#f2fbff" >Rotterdam</text>
<text transform="translate(1388.38,454.07) scale(0.8873,1)" font-size="11.97" fill="#f2fbff" >Singapore</text>
<text transform="translate(1298.48,502.30) scale(0.8649,1)" font-size="12.11" fill="#1a1a1a" >Container Type</text>
<text transform="translate(1308.31,536.47) scale(0.8873,1)" font-size="11.97" fill="#f2fbff" >Dry</text>
<text transform="translate(1366.51,536.47) scale(0.8873,1)" font-size="11.97" fill="#f2fbff" >Reefer</text>
<text transform="translate(1425.29,536.47) scale(0.8873,1)" font-size="11.97" fill="#f2fbff" >Tank</text>
<text transform="translate(1302.39,597.90) scale(0.8644,1)" font-size="11.97" fill="#1a1a1a" >Service Type</text>
<text transform="translate(1312.21,632.77) scale(0.8873,1)" font-size="11.97" fill="#f2fbff" >FCL</text>
<text transform="translate(1387.71,632.77) scale(0.8873,1)" font-size="11.97" fill="#f2fbff" >LCL</text></svg>
</body></html>
